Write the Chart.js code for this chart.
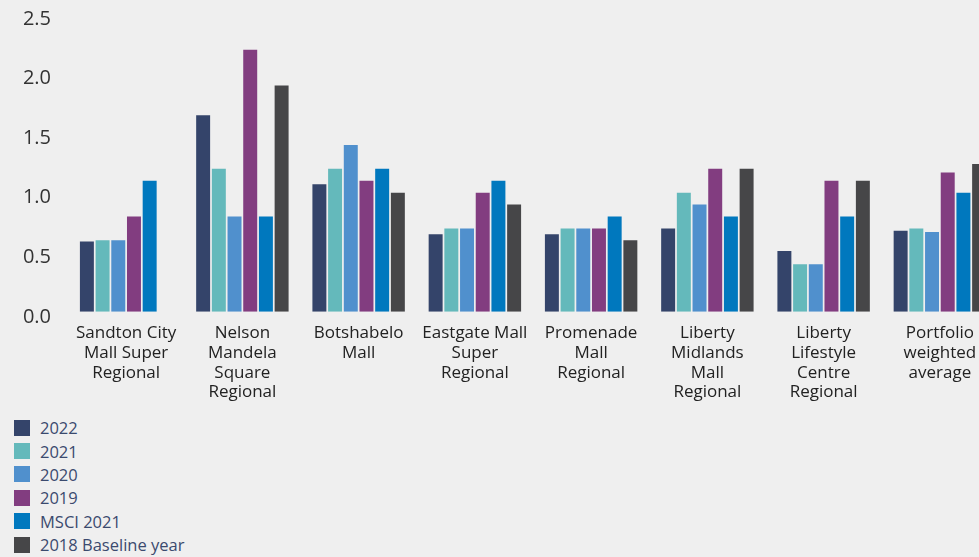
<!DOCTYPE html>
<html>
<head>
<meta charset="utf-8">
<script src="https://cdn.jsdelivr.net/npm/chart.js@4.4.1/dist/chart.umd.min.js"></script>
<style>
    html, body {
        margin: 0;
        padding: 0;
        background: #efefef;
        overflow: hidden;
        width: 979px;
        height: 557px;
    }
    #wrap {
        position: absolute;
        left: 0;
        top: -15px;
        width: 1020px;
        height: 429px;
    }
    #legend {
        position: absolute;
        left: 14px;
        top: 416px;
        font-family: "Open Sans", sans-serif;
        font-size: 16.5px;
        color: #3b4a6e;
    }
    .item {
        display: flex;
        align-items: center;
        height: 23.4px;
    }
    .box {
        width: 16px;
        height: 16px;
        margin-right: 10px;
    }
</style>
</head>
<body>
<div id="wrap"><canvas id="chart"></canvas></div>
<div id="legend"></div>
<script>
const categories = [
    ['Sandton City', 'Mall Super', 'Regional'],
    ['Nelson', 'Mandela', 'Square', 'Regional'],
    ['Botshabelo', 'Mall'],
    ['Eastgate Mall', 'Super', 'Regional'],
    ['Promenade', 'Mall', 'Regional'],
    ['Liberty', 'Midlands', 'Mall', 'Regional'],
    ['Liberty', 'Lifestyle', 'Centre', 'Regional'],
    ['Portfolio', 'weighted', 'average']
];

const seriesNames = ['2022', '2021', '2020', '2019', 'MSCI 2021', '2018 Baseline year'];

const values2022 = [0.59, 1.65, 1.07, 0.65, 0.65, 0.70, 0.51, 0.68];
const values2021 = [0.60, 1.20, 1.20, 0.70, 0.70, 1.00, 0.40, 0.70];
const values2020 = [0.60, 0.80, 1.40, 0.70, 0.70, 0.90, 0.40, 0.67];
const values2019 = [0.80, 2.20, 1.10, 1.00, 0.70, 1.20, 1.10, 1.17];
const valuesMsci = [1.10, 0.80, 1.20, 1.10, 0.80, 0.80, 0.80, 1.00];
const values2018 = [null, 1.90, 1.00, 0.90, 0.60, 1.20, 1.10, 1.24];

const colors = [
    '#34446a', // 2022
    '#64b9bb', // 2021
    '#5090cd', // 2020
    '#823d80', // 2019
    '#0078be', // MSCI
    '#464648'  // 2018
];

const allValues = [values2022, values2021, values2020, values2019, valuesMsci, values2018];

const ctx = document.getElementById('chart');

const chart = new Chart(ctx, {
    type: 'bar',
    data: {
        labels: categories,
        datasets: seriesNames.map((name, i) => ({
            label: name,
            data: allValues[i],
            backgroundColor: colors[i],
            borderWidth: 0,
            categoryPercentage: 0.81,
            barPercentage: 0.89
        }))
    },
    options: {
        responsive: true,
        maintainAspectRatio: false,
        animation: false,
        layout: {
            padding: { left: 0, right: 22, top: 0, bottom: 0 }
        },
        plugins: {
            legend: { display: false },
            tooltip: { enabled: false }
        },
        scales: {
            x: {
                grid: { display: false, drawTicks: false },
                border: { display: false },
                ticks: {
                    color: '#222',
                    padding: 12,
                    maxRotation: 0,
                    autoSkip: false,
                    font: { family: 'Open Sans', size: 17, lineHeight: 1.15 }
                }
            },
            y: {
                min: 0,
                max: 2.5,
                grid: { display: false, drawTicks: false },
                border: { display: false },
                afterFit: (scale) => { scale.width = 68; },
                ticks: {
                    stepSize: 0.5,
                    color: '#333',
                    padding: 17,
                    labelOffset: 5,
                    font: { family: 'Open Sans', size: 20 },
                    callback: (v) => v.toFixed(1)
                }
            }
        }
    }
});

// legend as a plain vertical list
const legend = document.getElementById('legend');
chart.data.datasets.forEach(ds => {
    const row = document.createElement('div');
    row.className = 'item';
    const box = document.createElement('span');
    box.className = 'box';
    box.style.background = ds.backgroundColor;
    const txt = document.createElement('span');
    txt.textContent = ds.label;
    row.appendChild(box);
    row.appendChild(txt);
    legend.appendChild(row);
});
</script>
</body>
</html>
